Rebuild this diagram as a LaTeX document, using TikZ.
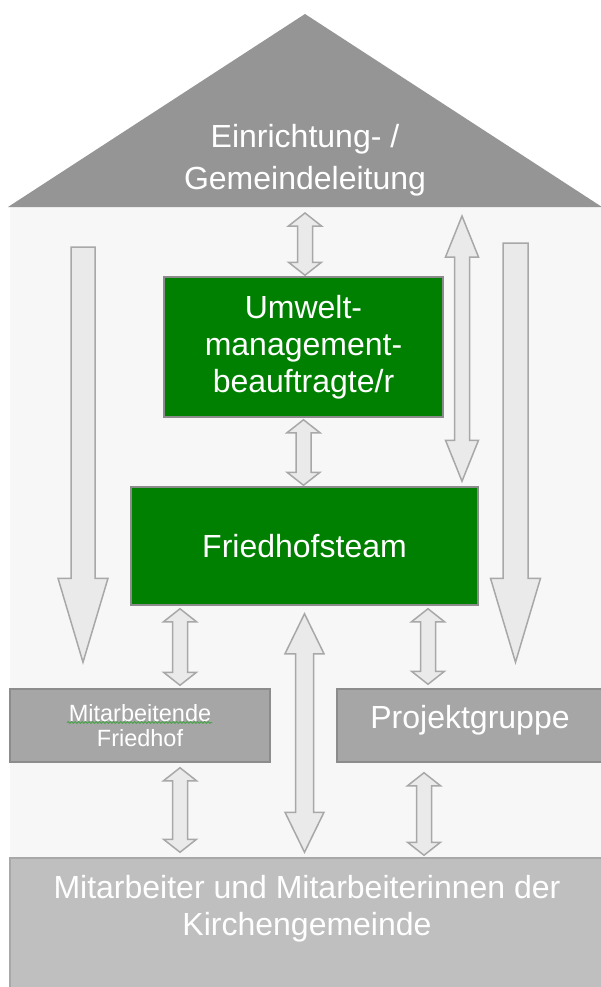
\documentclass[tikz,border=0pt]{standalone}
\usepackage{fontspec}
\setmainfont{Liberation Sans}
\usetikzlibrary{calc,decorations.pathmorphing}
\definecolor{RoofGray}{RGB}{149,149,149}
\definecolor{HouseBg}{RGB}{247,247,247}
\definecolor{LeafGreen}{RGB}{0,128,0}
\definecolor{EdgeGray}{RGB}{140,140,140}
\definecolor{PanelGray}{RGB}{166,166,166}
\definecolor{BaseGray}{RGB}{191,191,191}
\definecolor{ArrowFill}{RGB}{234,234,234}
\definecolor{ArrowEdge}{RGB}{168,168,168}
\definecolor{SpellGreen}{RGB}{70,160,70}
\tikzset{
  rooflabel/.style ={text=white, align=center, font=\fontsize{32}{42}\selectfont, inner sep=0pt},
  greenbox/.style  ={rectangle, draw=EdgeGray, line width=1.5pt, fill=LeafGreen, text=white,
                     align=center, font=\fontsize{32}{37}\selectfont, inner sep=0pt},
  graybox/.style   ={rectangle, draw=EdgeGray, line width=1.5pt, fill=PanelGray, text=white,
                     align=center, font=\fontsize{32}{37}\selectfont, inner sep=0pt},
  basebox/.style   ={rectangle, draw=ArrowEdge, line width=1.5pt, fill=BaseGray, text=white,
                     align=center, font=\fontsize{32}{37}\selectfont, inner sep=0pt},
  blockarr/.style  ={draw=ArrowEdge, fill=ArrowFill, line width=1.5pt, line join=miter},
  spellmark/.style ={draw=SpellGreen, line width=.8pt, decorate,
                     decoration={snake, amplitude=.9pt, segment length=3.5pt}},
}
% block arrow with a head at both tips: tips, half shaft, half head, head length
\newcommand{\twoway}[5]{%
  \path #1 coordinate (tipA) #2 coordinate (tipB);
  \draw[blockarr] let \p1=(tipA), \p2=(tipB) in
    (\x1,\y1) -- (\x1+#4,\y1-#5) -- (\x1+#3,\y1-#5) -- (\x1+#3,\y2+#5) -- (\x1+#4,\y2+#5)
    -- (\x1,\y2) -- (\x1-#4,\y2+#5) -- (\x1-#3,\y2+#5) -- (\x1-#3,\y1-#5) -- (\x1-#4,\y1-#5) -- cycle;}
% block arrow pointing down: tail, tip, half shaft, half head, head length
\newcommand{\downblock}[5]{%
  \path #1 coordinate (tailA) #2 coordinate (tipB);
  \draw[blockarr] let \p1=(tailA), \p2=(tipB) in
    (\x1-#3,\y1) -- (\x1+#3,\y1) -- (\x1+#3,\y2+#5) -- (\x1+#4,\y2+#5) -- (\x1,\y2)
    -- (\x1-#4,\y2+#5) -- (\x1-#3,\y2+#5) -- cycle;}

\begin{document}
\begin{tikzpicture}[x=1pt,y=-1pt]
  \useasboundingbox (0,0) rectangle (601,987);
  \fill[white] (0,0) rectangle (601,987);
  \fill[HouseBg] (10,207) rectangle (601,987);
  \fill[RoofGray] (8,207) -- (305,14) -- (602,207) -- cycle;
  \coordinate (eaves) at (305,207);
  \node[rooflabel] (lead) at (305,160) {Einrichtung- /\\Gemeindeleitung};

  \node[greenbox,minimum width=279pt,minimum height=140pt] (umw) at (303.5,347) {Umwelt-\\management-\\beauftragte/r};
  \node[greenbox,minimum width=347pt,minimum height=118pt] (team) at (304.5,546) {Friedhofsteam};
  \node[graybox,minimum width=260pt,minimum height=73pt,font=\fontsize{23.5}{25}\selectfont] (staff) at (140,725.5) {Mitarbeitende\\Friedhof};
  \node[graybox,minimum width=266pt,minimum height=73pt,text height=23pt,text depth=18pt] (proj) at (470,725.5) {Projektgruppe};
  \node[basebox,minimum width=594pt,minimum height=134pt,text depth=40pt] (crew) at (307,925) {Mitarbeiter und Mitarbeiterinnen der\\Kirchengemeinde};
  \draw[spellmark] ([xshift=-73pt,yshift=3pt]staff.center) -- ([xshift=72pt,yshift=3pt]staff.center);

  \coordinate (risetop)   at (462,216);
  \coordinate (lefttail)  at (83,247);
  \coordinate (righttail) at (515.5,243);

  \foreach \a/\b in {{([yshift=-6pt]eaves)}/{([yshift=1pt]umw.north)},
                     {([yshift=-2pt]umw.south)}/{([yshift=1pt]team.north)},
                     {([xshift=-124.5pt,yshift=-3pt]team.south)}/{([yshift=3pt]staff.north)},
                     {([xshift=123.5pt,yshift=-3pt]team.south)}/{([yshift=4pt]proj.north)},
                     {([xshift=40pt,yshift=-5pt]staff.south)}/{([yshift=5pt]crew.north)},
                     {([xshift=-46pt,yshift=-10pt]proj.south)}/{([yshift=2pt]crew.north)}}
    {\twoway{\a}{\b}{7.5pt}{16.5pt}{13pt}}

  \twoway{(risetop)}{([yshift=5pt]team.north)}{7.5pt}{16.5pt}{41pt}
  \twoway{([yshift=-8pt]team.south)}{([yshift=5pt]crew.north)}{9pt}{19.5pt}{40pt}
  \downblock{(lefttail)}{([yshift=26pt]staff.north)}{12pt}{25pt}{84pt}
  \downblock{(righttail)}{([yshift=26pt]proj.north)}{12.5pt}{25pt}{84pt}
\end{tikzpicture}
\end{document}
